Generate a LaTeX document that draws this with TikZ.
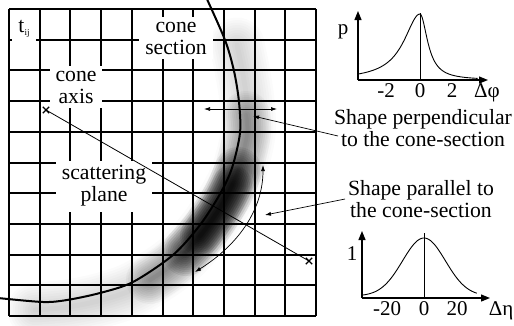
\documentclass[tikz,border=0pt]{standalone}
\usepackage{fontspec}
\setmainfont{Liberation Serif}
\usetikzlibrary{arrows.meta,shapes.misc}

\begin{document}
\begin{tikzpicture}[x=1pt,y=-1pt,
  gridline/.style={line width=1.2pt},
  lbl/.style={fill=white,align=center,inner xsep=6pt,inner ysep=5pt,font=\fontsize{21.7}{22}\selectfont},
  note/.style={align=center,inner sep=0pt,font=\fontsize{21.7}{22.5}\selectfont},
  tick/.style={anchor=base,inner sep=0pt,font=\fontsize{21}{21}\selectfont},
  ptr/.style={line width=0.7pt,-{Latex[length=6pt,width=4pt]}},
  dptr/.style={line width=0.7pt,{Latex[length=6pt,width=4pt]}-{Latex[length=6pt,width=4pt]}},
  axisarr/.style={line width=1.2pt,-{Triangle[length=9pt,width=7pt]}},
  xmark/.style={cross out,draw,line width=1.3pt,minimum size=5pt,inner sep=0pt},
  haze/.style={line cap=round,line join=round}]
\useasboundingbox (0,0) rectangle (514,325);
\fill[white] (0,0) rectangle (514,325);
\foreach \p in {9,40,70,101,132,163,193,224,255,285,316}{
  \draw[gridline] (\p,9) -- (\p,316);
  \draw[gridline] (9,\p) -- (316,\p);
}
\foreach \w in {5,10,...,55}{
  \draw[haze,line width=\w pt,opacity=0.016] plot[smooth] coordinates{(237,45) (242,69) (247,101) (248,134) (239,171) (226,198) (205,230) (177,261) (136,288) (102,300) (68,307) (35,310)};
}
\foreach \w in {4,8,...,48}{
  \draw[haze,line width=\w pt,opacity=0.03] plot[smooth] coordinates{(246,115) (247,134) (238,171) (226,198) (205,230) (177,261) (150,280)};
  \draw[haze,line width=\w pt,opacity=0.07] plot[smooth] coordinates{(238,171) (226,198) (205,230) (186,252)};
}
\foreach \w in {4,8,...,40}{
  \draw[haze,line width=\w pt,opacity=0.1] plot[smooth] coordinates{(232,185) (220,208) (200,236)};
}
\node[lbl] (tij) at (24,29) {t\raisebox{-0.12em}{\fontsize{9}{9}\selectfont ij}};
\node[lbl] (secLbl) at (176,38) {cone\\section};
\node[lbl] (axisLbl) at (76,87) {cone\\axis};
\node[lbl] (scatLbl) at (104,186) {scattering\\plane};
\draw[line width=2pt] plot[smooth] coordinates{(206,-3) (225,40) (234,71) (239,102) (240,133) (232,168) (220,194) (200,225) (173,255) (133,282) (100,293) (67,300) (43,302) (-2,298)};
\node[xmark] (axA) at (46,110) {};
\node[xmark] (axB) at (309,261) {};
\draw[line width=0.8pt] (axA.center) -- (axB.center);
\coordinate (hL) at (204,109);
\coordinate (hR) at (277,109);
\draw[dptr] (hL) -- (hR);
\coordinate (swLo) at (195,272);
\coordinate (swHi) at (263,165);
\draw[dptr] (swLo) .. controls (238,245) and (263,210) .. (swHi);
\node[note] (perpTxt) at (423,128) {Shape perpendicular\\to the cone-section};
\node[note] (parTxt) at (421,199) {Shape parallel to\\the cone-section};
\coordinate (perpFrom) at (338,136);
\coordinate (perpTip) at (253,116);
\coordinate (parFrom) at (345,199);
\coordinate (parTip) at (265,215);
\draw[ptr] (perpFrom) -- (perpTip);
\draw[ptr] (parFrom) -- (parTip);
\coordinate (oP) at (358,80);
\draw[axisarr] (oP) -- (358,11);
\draw[axisarr] (oP) -- (488,80);
\draw[line width=0.8pt] (420,80) -- (420,13);
\draw[line width=0.9pt] plot[domain=-3.87:0,samples=60] ({420+16*\x},{80-66/(1+(\x/1.22)^2)});
\draw[line width=0.9pt] plot[domain=0:3.6,samples=60] ({420+16*\x},{80-66/(1+(\x/0.57)^2)});
\node[tick] (pLbl) at (343,34) {p};
\node[tick] (tA) at (386,97) {-2};
\node[tick] (tB) at (420,97) {0};
\node[tick] (tC) at (452,97) {2};
\node[tick] (phiLbl) at (487,97) {Δφ};
\coordinate (oE) at (362,298);
\draw[axisarr] (oE) -- (362,231);
\draw[axisarr] (oE) -- (490,298);
\draw[line width=0.8pt] (424,298) -- (424,233);
\draw[line width=0.9pt] plot[domain=-37.5:32,samples=80] ({424+1.65*\x},{298-2-58*exp(-(\x*\x)/(2*13*13))});
\node[tick] (oneLbl) at (352,260) {1};
\node[tick] (tD) at (387,315) {-20};
\node[tick] (tE) at (424,315) {0};
\node[tick] (tF) at (457,315) {20};
\node[tick] (etaLbl) at (501,315) {Δη};
\end{tikzpicture}
\end{document}
